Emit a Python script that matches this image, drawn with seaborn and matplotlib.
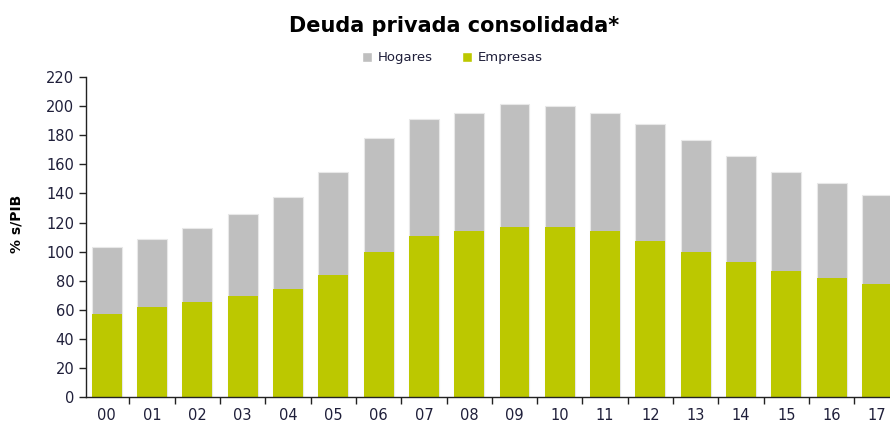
import numpy as np
import pandas as pd
import seaborn as sns
import matplotlib.pyplot as plt
from matplotlib.patches import Patch

# ---------------- DATA ----------------
years = ["00", "01", "02", "03", "04", "05", "06", "07", "08",
         "09", "10", "11", "12", "13", "14", "15", "16", "17"]
empresas = [57, 62, 65.5, 69.5, 74, 84, 99.5, 110.5, 114,
            117, 117, 114.5, 107, 99.5, 93, 87, 82, 78]
hogares = [46, 47, 50.5, 56.5, 63.5, 70.5, 78.5, 80.5, 81.5,
           84.5, 83, 81, 80.5, 77, 73, 68, 65, 61]

GRAY = "#bfbfbf"
GREEN = "#bcc800"
TXT = "#1f1f3a"

df = pd.DataFrame({"year": years, "Empresas": empresas, "Hogares": hogares})
df["total"] = df["Empresas"] + df["Hogares"]

sns.set_style("white")
plt.rcParams["font.family"] = ["DejaVu Sans"]

fig = plt.figure(figsize=(8.9, 4.26), dpi=100)
ax = fig.add_axes([0.0966, 0.068, 0.9034, 0.751])

# stacked bars: total (gray) behind, empresas (green) in front
sns.barplot(data=df, x="year", y="total", color=GRAY, width=0.66,
            edgecolor="#e8e8e8", linewidth=0.8, saturation=1, ax=ax)
sns.barplot(data=df, x="year", y="Empresas", color=GREEN, width=0.66,
            edgecolor="none", linewidth=0, saturation=1, ax=ax)

# separator ticks between categories (set before xlim so they don't widen it)
ax.set_xticks(np.arange(-0.5, 17, 1), minor=True)

ax.set_ylim(0, 220)
ax.set_yticks(np.arange(0, 221, 20))
ax.set_xlim(-0.46, 17.29)
ax.set_xlabel("")
ax.set_ylabel("% s/PIB", fontsize=10, fontweight="bold", color="black")
ax.yaxis.set_label_coords(-0.078, 0.54)

for s in ["top", "right"]:
    ax.spines[s].set_visible(False)
for s in ["left", "bottom"]:
    ax.spines[s].set_color("#222222")
    ax.spines[s].set_linewidth(1.0)

ax.tick_params(axis="y", direction="out", length=5, width=1, color="#222222",
               labelsize=10.5, labelcolor=TXT, left=True)
ax.tick_params(axis="x", which="major", length=0, labelsize=10.5,
               labelcolor=TXT, pad=8)
ax.tick_params(axis="x", which="minor", direction="out", length=5, width=1,
               color="#222222", bottom=True)

fig.text(0.51, 0.94, "Deuda privada consolidada*", ha="center", va="center",
         fontsize=15, fontweight="bold", color="black")

handles = [Patch(facecolor=GRAY, label="Hogares"),
           Patch(facecolor=GREEN, label="Empresas")]
fig.legend(handles=handles, loc="center", bbox_to_anchor=(0.508, 0.864), ncol=2,
           frameon=False, fontsize=9.5, handlelength=0.8, handleheight=0.8,
           handletextpad=0.4, columnspacing=2.2, labelcolor=TXT)

fig.savefig("out.png", dpi=100)
